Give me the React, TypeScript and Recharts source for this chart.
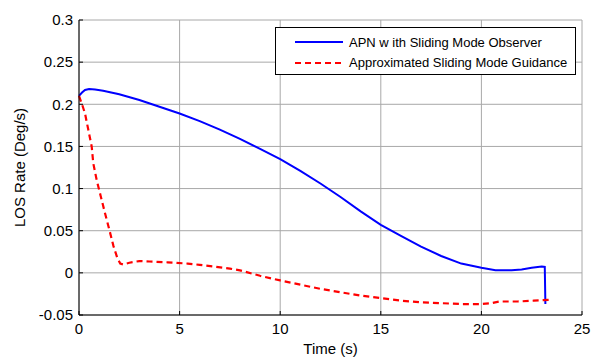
import React from 'react';
import { LineChart, Line, XAxis, YAxis, CartesianGrid, Legend } from 'recharts';

const FONT = '"Liberation Sans", Arial, sans-serif';

// APN with sliding mode observer (blue, solid)
const apnTime = [0, 0.15, 0.3, 0.5, 0.8, 1.2, 2, 3, 4, 5, 6, 7, 8, 9, 10, 11, 12, 13, 14, 15, 16, 17, 18, 19, 20, 20.7, 21.5, 22, 22.5, 23, 23.15, 23.18];
const apnRate = [0.21, 0.214, 0.217, 0.218, 0.2175, 0.216, 0.212, 0.205, 0.197, 0.189, 0.18, 0.17, 0.159, 0.147, 0.135, 0.121, 0.106, 0.09, 0.073, 0.057, 0.044, 0.031, 0.02, 0.011, 0.006, 0.003, 0.003, 0.004, 0.006, 0.0075, 0.007, -0.037];

// approximated sliding mode guidance (red, dashed)
const smgTime = [0, 0.15, 0.3, 0.46, 0.63, 0.71, 0.88, 1.08, 1.29, 1.51, 1.71, 1.9, 2.05, 2.2, 2.5, 3, 3.5, 4.4, 5.4, 6, 6.7, 7.5, 8, 9, 10, 11, 12, 13, 14, 15, 16, 17, 18, 19, 20, 20.5, 20.9, 21.8, 22.6, 23.4];
const smgRate = [0.21, 0.2, 0.189, 0.17, 0.15, 0.13, 0.11, 0.091, 0.071, 0.051, 0.032, 0.018, 0.011, 0.01, 0.012, 0.014, 0.0135, 0.0125, 0.011, 0.0095, 0.0075, 0.005, 0.003, -0.0035, -0.009, -0.014, -0.019, -0.023, -0.027, -0.03, -0.033, -0.035, -0.036, -0.037, -0.037, -0.036, -0.034, -0.034, -0.033, -0.032];

const xTicks = [0, 5, 10, 15, 20, 25];
const yTicks = [-0.05, 0, 0.05, 0.1, 0.15, 0.2, 0.25, 0.3];

const series = [
  { name: 'APN w ith Sliding Mode Observer', color: '#0000ff', dash: undefined as string | undefined },
  { name: 'Approximated Sliding Mode Guidance', color: '#ff0000', dash: '6 4' },
];

const apnData = apnTime.map((t, i) => ({ t, v: apnRate[i] }));
const smgData = smgTime.map((t, i) => ({ t, v: smgRate[i] }));

const fmt = (v: number) => String(+v.toFixed(2));
const tickStyle = { fontSize: 15, fill: '#000', fontFamily: FONT };

const LegendBox = () => (
  <div
    style={{
      width: 301,
      height: 48,
      boxSizing: 'border-box',
      border: '1px solid #000',
      background: '#fff',
      paddingTop: 4,
      fontFamily: FONT,
      fontSize: 13,
      color: '#000',
    }}
  >
    {series.map((s) => (
      <div key={s.name} style={{ display: 'flex', alignItems: 'center', height: 20.6 }}>
        <svg width={48} height={4} style={{ marginLeft: 19, marginRight: 6 }}>
          <line x1={0} y1={2} x2={48} y2={2} stroke={s.color} strokeWidth={2} strokeDasharray={s.dash} />
        </svg>
        <span style={{ whiteSpace: 'nowrap' }}>{s.name}</span>
      </div>
    ))}
  </div>
);

export default function App() {
  return (
    <div style={{ position: 'absolute', left: 0, top: 0, background: '#fff' }}>
      <LineChart width={593} height={358} margin={{ top: 20, right: 11, bottom: 0, left: 0 }}>
        <CartesianGrid stroke="#a8a8a8" strokeWidth={1} />
        <XAxis
          dataKey="t"
          type="number"
          domain={[0, 25]}
          ticks={xTicks}
          height={43}
          axisLine={{ stroke: '#000' }}
          tickLine={{ stroke: '#000' }}
          tickSize={-4}
          tickMargin={12}
          tick={tickStyle}
          label={{ value: 'Time (s)', position: 'center', dy: 12, style: { fontSize: 15, fill: '#000', fontFamily: FONT } }}
        />
        <XAxis
          xAxisId="top"
          orientation="top"
          type="number"
          domain={[0, 25]}
          ticks={xTicks}
          height={0}
          axisLine={{ stroke: '#000' }}
          tickLine={{ stroke: '#000' }}
          tickSize={-4}
          tickFormatter={() => ''}
        />
        <YAxis
          type="number"
          domain={[-0.05, 0.3]}
          ticks={yTicks}
          width={79}
          axisLine={{ stroke: '#000' }}
          tickLine={{ stroke: '#000' }}
          tickSize={-4}
          tickMargin={10}
          tick={tickStyle}
          tickFormatter={fmt}
          allowDataOverflow
          label={{ value: 'LOS Rate (Deg/s)', angle: -90, position: 'center', dx: -20, style: { fontSize: 15, fill: '#000', fontFamily: FONT } }}
        />
        <YAxis
          yAxisId="right"
          orientation="right"
          type="number"
          domain={[-0.05, 0.3]}
          ticks={yTicks}
          width={0}
          axisLine={{ stroke: '#000' }}
          tickLine={{ stroke: '#000' }}
          tickSize={-4}
          tickFormatter={() => ''}
        />
        <Legend
          layout="vertical"
          align="center"
          verticalAlign="middle"
          wrapperStyle={{ top: 27, left: 275, width: 301, height: 48 }}
          content={() => <LegendBox />}
        />
        <Line
          data={apnData}
          dataKey="v"
          name={series[0].name}
          type="linear"
          stroke={series[0].color}
          strokeWidth={2}
          dot={false}
          isAnimationActive={false}
        />
        <Line
          data={smgData}
          dataKey="v"
          name={series[1].name}
          type="linear"
          stroke={series[1].color}
          strokeWidth={2.2}
          strokeDasharray="6 4"
          dot={false}
          isAnimationActive={false}
        />
      </LineChart>
    </div>
  );
}
